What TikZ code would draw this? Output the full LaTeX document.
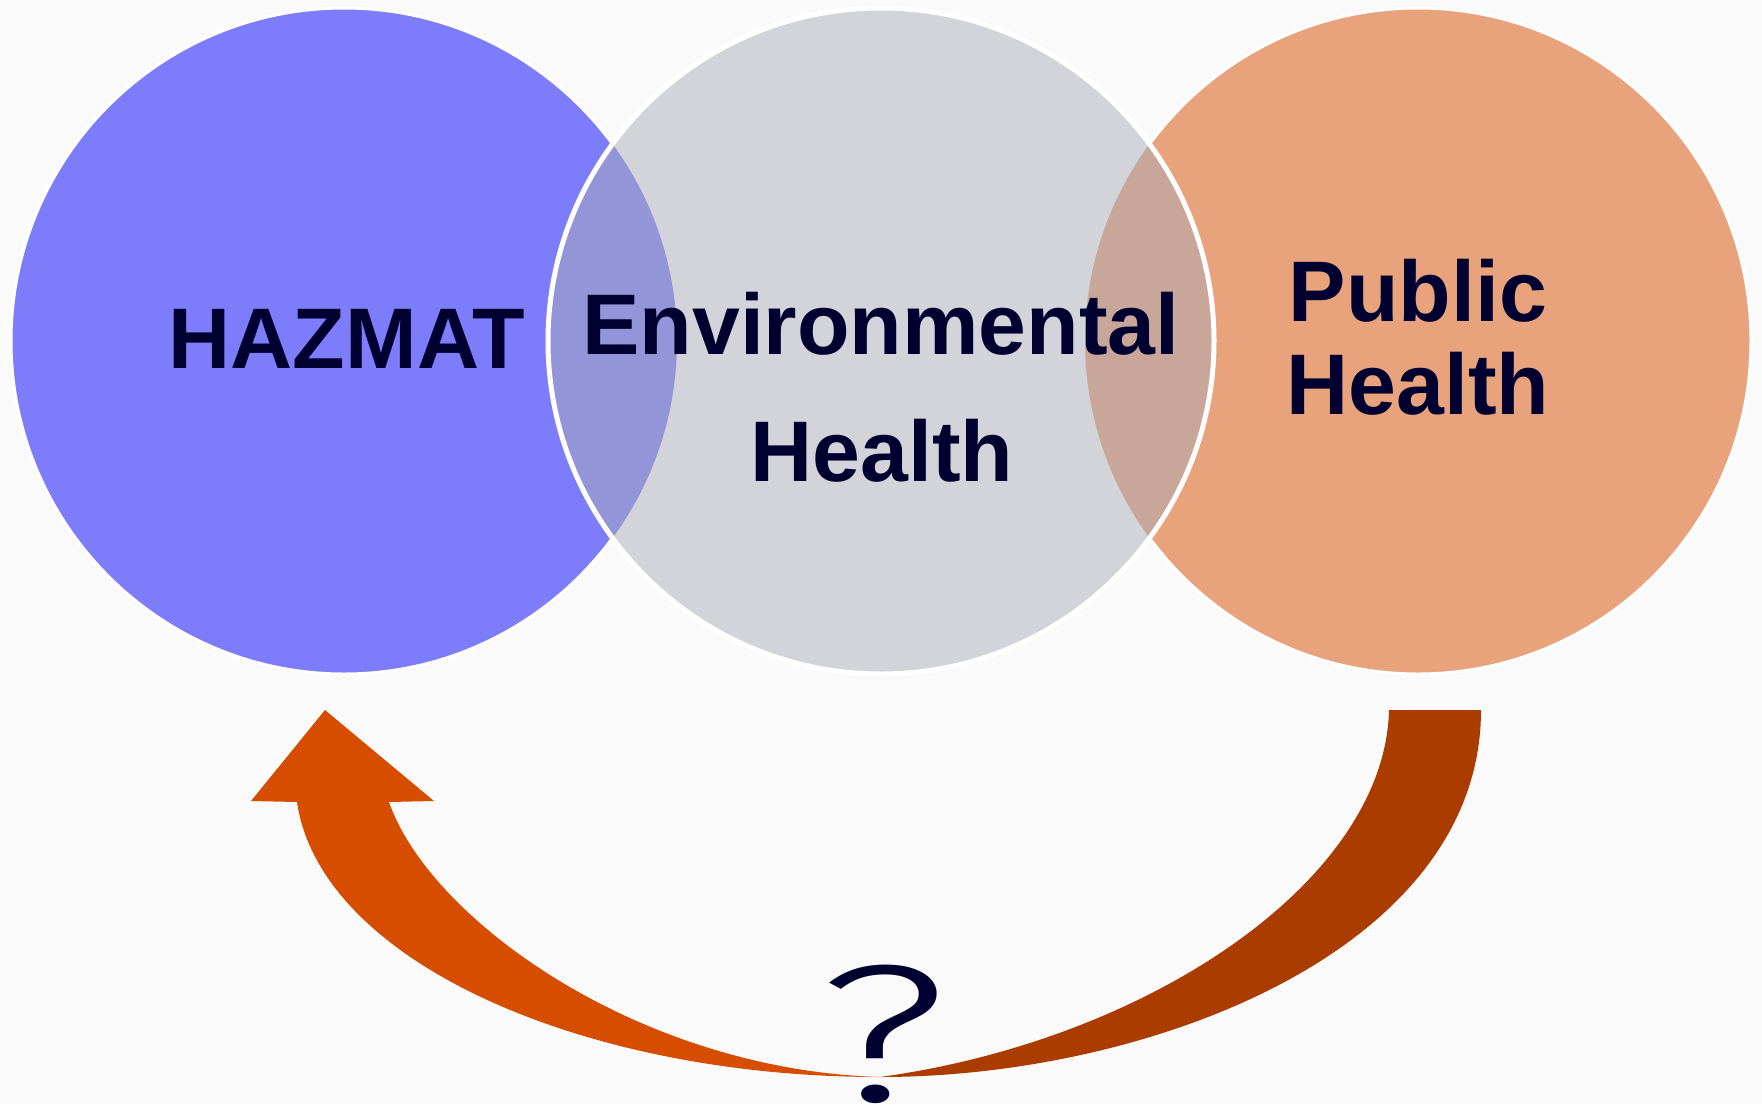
\documentclass[tikz,border=0pt]{standalone}
\usepackage{fontspec}
\usepackage{graphicx}
\setmainfont{Liberation Sans}
\newfontfamily\qfont{Fira Sans Light}
\definecolor{bgc}{HTML}{FAFAFA}
\definecolor{bluec}{HTML}{7D7DFB}
\definecolor{grayc}{HTML}{D3D4D9}
\definecolor{orangec}{HTML}{E8A37C}
\definecolor{lensL}{HTML}{9495D9}
\definecolor{lensR}{HTML}{C9A69A}
\definecolor{arrowL}{HTML}{D64D00}
\definecolor{arrowR}{HTML}{AB3C00}
\definecolor{txtc}{HTML}{000030}
\begin{document}
\begin{tikzpicture}[x=0.5pt,y=-0.5pt,
  disc/.style={circle, minimum size=333pt, inner sep=0pt},
  lbl/.style={font=\bfseries\fontsize{43pt}{50pt}\selectfont, text=txtc, inner sep=0pt, anchor=base}]
\useasboundingbox[fill=bgc] (0,0) rectangle (1762,1104);
% circles
\node[disc, fill=bluec, draw=white, line width=1.5pt] (hzc) at (344,341) {};
\node[disc, fill=orangec, draw=white, line width=1.5pt] (phc) at (1418,341) {};
\node[disc, fill=grayc] (ehc) at (881,341) {};
\begin{scope}
  \clip (ehc.center) circle[radius=333];
  \fill[lensL] (hzc.center) circle[radius=333];
  \fill[lensR] (phc.center) circle[radius=333];
\end{scope}
\draw[white, line width=2.5pt] (ehc.center) circle[radius=333];
% labels
\node[lbl] (hz) at (347,368) {HAZMAT};
\node[lbl] (env1) at (881,354) {Environmental};
\node[lbl] (env2) at (882,481) {Health};
\node[lbl] (pub1) at (1418,321) {Public};
\node[lbl] (pub2) at (1418,414) {Health};
% question mark
\node[anchor=base, inner sep=0pt, text=txtc, font=\qfont\fontsize{98pt}{100pt}\selectfont] (q) at (883,1101) {\scalebox{1.5}[1]{?}};
% curved block arrow
\coordinate (mid) at (880,1077);
\fill[arrowL] (297,802) .. controls (320,960) and (580,1077) .. (mid)
  .. controls (640,1070) and (430,920) .. (389,802)
  -- (434,801) -- (325,710) -- (251,801) -- cycle;
\fill[arrowR] (1481,710) .. controls (1481,950) and (1150,1077) .. (mid)
  .. controls (1150,1040) and (1385,880) .. (1389,710) -- cycle;
\end{tikzpicture}
\end{document}
